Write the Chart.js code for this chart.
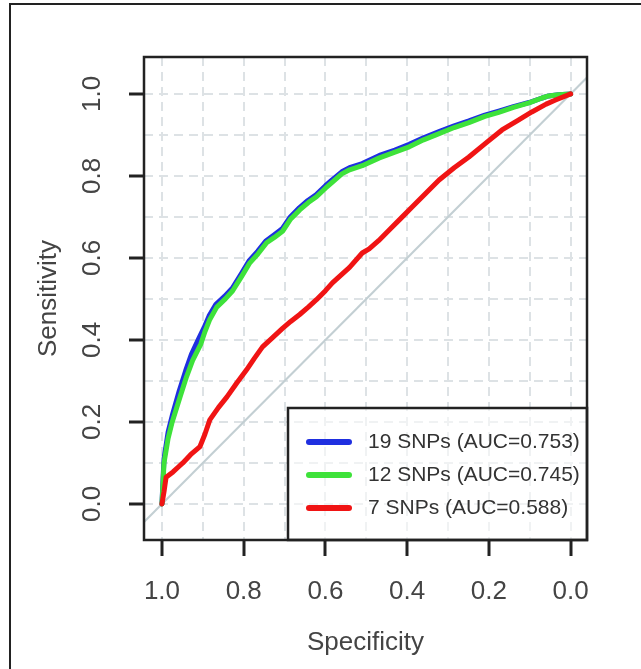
<!DOCTYPE html>
<html>
<head>
<meta charset="utf-8">
<script src="https://cdn.jsdelivr.net/npm/chart.js@4.4.1/dist/chart.umd.min.js"></script>
<style>
  html, body { margin: 0; padding: 0; background: #fff; }
  #wrap { width: 641px; height: 669px; }
</style>
</head>
<body>
<div id="wrap"><canvas id="rocCanvas" width="641" height="669"></canvas></div>
<script>
// Series names and colours, as in the legend
const seriesNames = ['19 SNPs (AUC=0.753)', '12 SNPs (AUC=0.745)', '7 SNPs (AUC=0.588)'];
const seriesColors = ['#1f2fe0', '#3ee23a', '#f01414'];

// 19 SNPs curve (specificity / sensitivity)
const spec19 = [1, 0.997, 0.995, 0.985, 0.975, 0.958, 0.942, 0.928, 0.91, 0.897, 0.885, 0.868, 0.847, 0.828,
  0.806, 0.786, 0.766, 0.745, 0.726, 0.706, 0.686, 0.664, 0.643, 0.623, 0.6, 0.583, 0.56, 0.541, 0.51,
  0.468, 0.43, 0.395, 0.36, 0.322, 0.285, 0.249, 0.21, 0.176, 0.14, 0.102, 0.07, 0.054, 0.03, 0];
const sens19 = [0, 0.07, 0.11, 0.175, 0.215, 0.275, 0.325, 0.365, 0.403, 0.43, 0.458, 0.487, 0.506, 0.526,
  0.561, 0.594, 0.616, 0.642, 0.656, 0.671, 0.7, 0.722, 0.74, 0.754, 0.776, 0.791, 0.81, 0.82, 0.83,
  0.85, 0.863, 0.877, 0.893, 0.908, 0.922, 0.934, 0.948, 0.958, 0.969, 0.979, 0.99, 0.995, 0.998, 1];

// 12 SNPs curve
const spec12 = [1, 0.997, 0.995, 0.985, 0.975, 0.956, 0.94, 0.925, 0.905, 0.895, 0.883, 0.866, 0.845, 0.827,
  0.805, 0.785, 0.765, 0.744, 0.725, 0.705, 0.685, 0.663, 0.642, 0.622, 0.6, 0.583, 0.56, 0.541, 0.51,
  0.468, 0.43, 0.395, 0.36, 0.322, 0.285, 0.249, 0.21, 0.176, 0.14, 0.102, 0.07, 0.054, 0.03, 0];
const sens12 = [0, 0.06, 0.1, 0.16, 0.2, 0.26, 0.31, 0.35, 0.39, 0.42, 0.45, 0.48, 0.5, 0.52,
  0.555, 0.588, 0.61, 0.637, 0.65, 0.665, 0.695, 0.717, 0.735, 0.749, 0.77, 0.785, 0.805, 0.815, 0.825,
  0.844, 0.858, 0.871, 0.888, 0.903, 0.918, 0.93, 0.945, 0.955, 0.967, 0.978, 0.99, 0.995, 0.998, 1];

// 7 SNPs curve
const spec7 = [1, 0.995, 0.99, 0.973, 0.96, 0.949, 0.93, 0.907, 0.895, 0.883, 0.862, 0.841, 0.817, 0.793,
  0.774, 0.754, 0.73, 0.705, 0.685, 0.663, 0.642, 0.622, 0.6, 0.583, 0.56, 0.541, 0.51, 0.493, 0.47,
  0.444, 0.415, 0.388, 0.355, 0.322, 0.285, 0.249, 0.21, 0.168, 0.13, 0.095, 0.06, 0.037, 0];
const sens7 = [0, 0.03, 0.065, 0.078, 0.09, 0.1, 0.12, 0.14, 0.17, 0.205, 0.235, 0.261, 0.295, 0.327,
  0.355, 0.383, 0.405, 0.428, 0.445, 0.462, 0.48, 0.498, 0.52, 0.539, 0.56, 0.577, 0.612, 0.622, 0.642,
  0.668, 0.697, 0.724, 0.757, 0.79, 0.82, 0.846, 0.878, 0.912, 0.935, 0.956, 0.975, 0.985, 1];

// Chance line (abline through (1,0) and (0,1)), extended past the plot edges
const chanceSpec = [1.2, -0.2];
const chanceSens = [-0.2, 1.2];

// Grid every 0.1, labels every 0.2
const gridTicks = [0, 0.1, 0.2, 0.3, 0.4, 0.5, 0.6, 0.7, 0.8, 0.9, 1.0];
const labelTicks = ['0.0', '0.2', '0.4', '0.6', '0.8', '1.0'];

const FONT = "'Liberation Sans', Arial, Helvetica, sans-serif";
const TEXT_COLOR = '#444';
const GRID_COLOR = '#dde2e5';

Chart.defaults.font.family = FONT;

function toPoints(xs, ys) {
  return xs.map((x, i) => ({ x: x, y: ys[i] }));
}

function isLabelled(value) {
  return labelTicks.indexOf(Number(value).toFixed(1)) !== -1;
}

function tickLabel(value) {
  return isLabelled(value) ? Number(value).toFixed(1) : '';
}

// Page border, plot box and the boxed legend (R style)
const rocFrame = {
  id: 'rocFrame',
  beforeDraw(chart) {
    const ctx = chart.ctx;
    ctx.save();
    ctx.fillStyle = '#fff';
    ctx.fillRect(0, 0, chart.width, chart.height);
    ctx.strokeStyle = '#222';
    ctx.lineWidth = 2;
    ctx.beginPath();
    ctx.moveTo(10, chart.height);
    ctx.lineTo(10, 4);
    ctx.lineTo(chart.width, 4);
    ctx.stroke();
    ctx.restore();
  },
  afterDatasetsDraw(chart) {
    const ctx = chart.ctx;
    const area = chart.chartArea;
    ctx.save();

    // legend box in the bottom right corner
    const lx = 288, ly = 408;
    ctx.fillStyle = 'rgba(255,255,255,0.55)';
    ctx.fillRect(lx, ly, area.right - lx, area.bottom - ly);
    ctx.strokeStyle = '#222';
    ctx.lineWidth = 2.5;
    ctx.strokeRect(lx, ly, area.right - lx, area.bottom - ly);

    ctx.font = '21px ' + FONT;
    ctx.textBaseline = 'middle';
    ctx.textAlign = 'left';
    ctx.lineCap = 'round';
    chart.data.datasets.filter(ds => !ds.hideInLegend).forEach((ds, i) => {
      const y = 442 + i * 33;
      ctx.strokeStyle = ds.borderColor;
      ctx.lineWidth = 6;
      ctx.beginPath();
      ctx.moveTo(309, y);
      ctx.lineTo(349, y);
      ctx.stroke();
      ctx.fillStyle = '#333';
      ctx.fillText(ds.label, 368, y);
    });

    // plot box
    ctx.strokeStyle = '#222';
    ctx.lineWidth = 2.5;
    ctx.strokeRect(area.left, area.top, area.right - area.left, area.bottom - area.top);
    ctx.restore();
  }
};

const curveStyle = {
  showLine: true,
  pointRadius: 0,
  pointHoverRadius: 0,
  borderWidth: 5,
  tension: 0,
  borderJoinStyle: 'round',
  borderCapStyle: 'round',
  fill: false
};

const config = {
  type: 'scatter',
  data: {
    datasets: [
      Object.assign({ label: seriesNames[0], data: toPoints(spec19, sens19), borderColor: seriesColors[0], order: 2 }, curveStyle),
      Object.assign({ label: seriesNames[1], data: toPoints(spec12, sens12), borderColor: seriesColors[1], order: 1 }, curveStyle),
      Object.assign({ label: seriesNames[2], data: toPoints(spec7, sens7), borderColor: seriesColors[2], order: 0 }, curveStyle),
      {
        label: 'chance',
        hideInLegend: true,
        data: toPoints(chanceSpec, chanceSens),
        showLine: true,
        pointRadius: 0,
        borderWidth: 2,
        borderColor: '#c3cfd3',
        order: 3
      }
    ]
  },
  options: {
    responsive: false,
    animation: false,
    events: [],
    layout: { padding: { left: 0, right: 54, top: 57, bottom: 0 } },
    plugins: {
      legend: { display: false },
      tooltip: { enabled: false }
    },
    scales: {
      x: {
        type: 'linear',
        reverse: true,
        min: -0.04,
        max: 1.044,
        afterBuildTicks: scale => { scale.ticks = gridTicks.map(v => ({ value: v })); },
        afterFit: scale => { scale.height = 129; },
        ticks: {
          callback: tickLabel,
          autoSkip: false,
          maxRotation: 0,
          padding: 20,
          color: TEXT_COLOR,
          font: { size: 26 }
        },
        grid: {
          color: GRID_COLOR,
          lineWidth: 2,
          tickLength: 16,
          tickWidth: 3,
          tickColor: c => (c.tick && isLabelled(c.tick.value) ? '#222' : 'rgba(0,0,0,0)'),
          tickBorderDash: []
        },
        border: { display: false, dash: [9, 6] },
        title: {
          display: true,
          text: 'Specificity',
          color: TEXT_COLOR,
          font: { size: 26 },
          padding: { top: 0, bottom: 11 }
        }
      },
      y: {
        type: 'linear',
        min: -0.088,
        max: 1.09,
        afterBuildTicks: scale => { scale.ticks = gridTicks.map(v => ({ value: v })); },
        afterFit: scale => { scale.width = 144; },
        ticks: {
          callback: tickLabel,
          autoSkip: false,
          minRotation: 90,
          maxRotation: 90,
          crossAlign: 'center',
          padding: 18,
          color: TEXT_COLOR,
          font: { size: 26 }
        },
        grid: {
          color: GRID_COLOR,
          lineWidth: 2,
          tickLength: 15,
          tickWidth: 3,
          tickColor: c => (c.tick && isLabelled(c.tick.value) ? '#222' : 'rgba(0,0,0,0)'),
          tickBorderDash: []
        },
        border: { display: false, dash: [9, 6] },
        title: {
          display: true,
          text: 'Sensitivity',
          color: TEXT_COLOR,
          font: { size: 26 },
          padding: { top: 33, bottom: 0 }
        }
      }
    }
  },
  plugins: [rocFrame]
};

new Chart(document.getElementById('rocCanvas'), config);
</script>
</body>
</html>
